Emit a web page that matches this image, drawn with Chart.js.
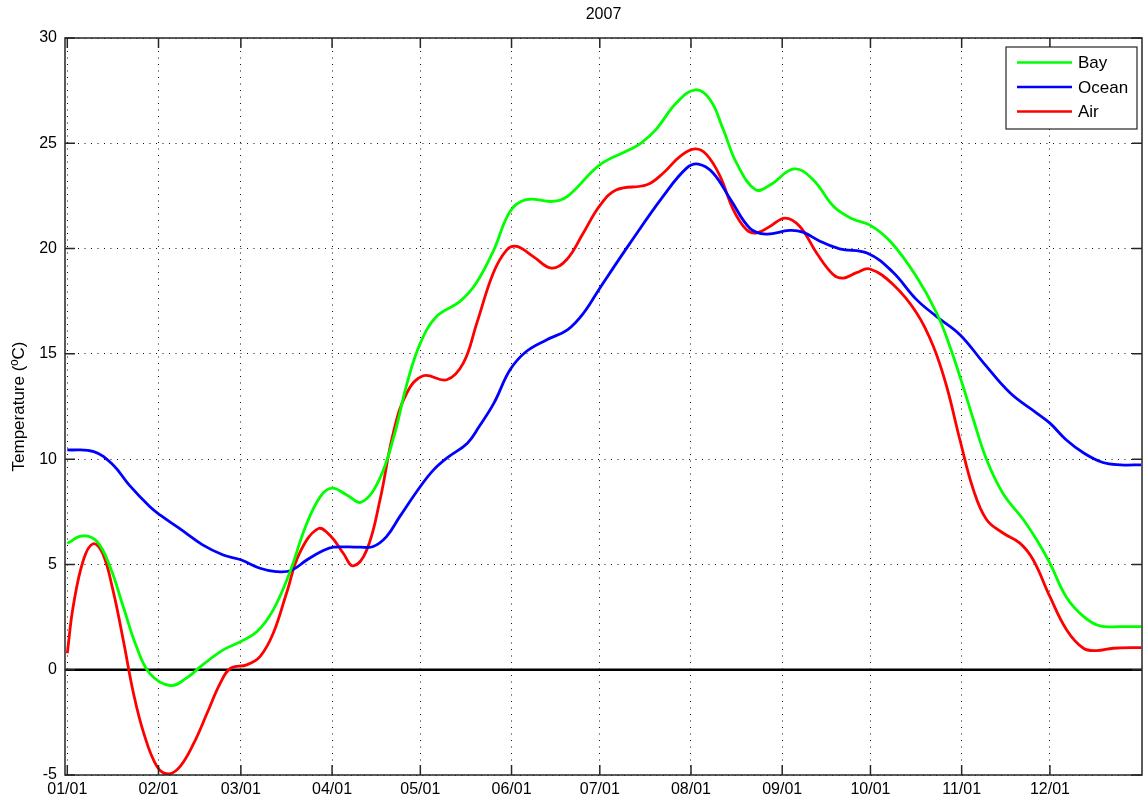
<!DOCTYPE html>
<html><head><meta charset="utf-8">
<script src="https://cdn.jsdelivr.net/npm/chart.js@4.4.0/dist/chart.umd.min.js"></script>
<style>html,body{margin:0;padding:0;background:#fff;overflow:hidden}canvas{display:block}</style>
</head><body>
<canvas id="c" width="1144" height="803"></canvas>
<script>
// ---------- data ----------
const chartTitle = '2007';
const yAxisTitle = 'Temperature (ºC)';
const monthTickDays = [0, 31, 59, 90, 120, 151, 181, 212, 243, 273, 304, 334];
const monthTickLabels = ['01/01','02/01','03/01','04/01','05/01','06/01','07/01','08/01','09/01','10/01','11/01','12/01'];
const yMin = -5, yMax = 30, yStep = 5;
const xMin = -0.78, xMax = 365.3;

const bayDays = [0,5,10,14.5,19,23.5,28,35,40.5,46,53,59,64.5,70,75.5,81,86,90,95,100,106,111,115.5,120,125.5,133.5,139,145,150.5,156,165,170,181,191,195,200,207,213.5,218.5,223,227.5,234,239,247,253.5,260.5,267,273,280,288.5,295.5,300,304.5,308,312.5,318,325,329.5,334,339.5,345.5,351,358,365];
const bayTemp = [6.0,6.35,6.1,4.9,3.0,1.1,-0.17,-0.75,-0.4,0.23,0.94,1.34,1.81,2.84,4.58,6.8,8.22,8.62,8.3,7.96,9.02,11.07,13.61,15.51,16.77,17.49,18.36,19.94,21.76,22.32,22.24,22.48,23.98,24.69,25.01,25.64,26.91,27.54,27.07,25.64,24.06,22.79,23.03,23.78,23.27,22.0,21.4,21.1,20.3,18.7,16.94,15.35,13.45,11.87,9.97,8.38,7.12,6.17,5.06,3.47,2.52,2.08,2.05,2.05];

const oceanDays = [0,9,15.5,21,28,31.5,38,46,53,59,65.5,71,76,81.5,87,90.5,99.5,104,108.5,113,120,124.5,129,136,140,145,150.5,156,163,170,175.5,181,191,202.5,210.5,214.5,219.5,225.5,232,237.5,245.5,250,256,262.5,272,280.5,288.5,295.5,303.5,311.5,320.5,329.5,334,339.5,345.5,352,358,365];
const oceanTemp = [10.44,10.36,9.73,8.78,7.75,7.35,6.72,5.93,5.45,5.22,4.82,4.66,4.71,5.22,5.66,5.82,5.82,5.85,6.32,7.27,8.70,9.49,10.05,10.76,11.55,12.66,14.24,15.11,15.67,16.14,16.94,18.12,20.2,22.48,23.82,24.01,23.59,22.32,20.97,20.69,20.86,20.78,20.34,19.99,19.78,18.9,17.6,16.77,15.9,14.56,13.14,12.19,11.71,10.92,10.29,9.84,9.73,9.73];

const airDays = [0,2,5.5,8.8,12,15.5,19,22.5,26,30.5,34.3,38.3,43,47.5,52,55.5,61,65.5,70,74.5,79,85.3,89.5,93.8,97.2,101.8,106.3,110.8,115.4,121,129,134.6,139.2,144.8,149.4,152.8,158.4,164.6,169.7,175.4,181,186.7,197,202.6,208.3,213.4,217.3,221.9,226.4,230.9,234.3,238.8,244,249,254.7,260.4,263.8,268.3,272.8,280.8,288.7,294.4,298.9,303.4,308,312.5,318.2,323.8,328.3,334,339.7,345.4,349.9,355.5,365];
const airTemp = [0.78,3.0,5.22,5.98,5.53,3.79,1.42,-1.12,-3.02,-4.6,-4.95,-4.6,-3.49,-2.07,-0.64,0.07,0.23,0.62,1.73,3.63,5.55,6.7,6.35,5.53,4.93,5.69,8.07,11.24,13.14,13.96,13.77,14.56,16.46,18.84,19.94,20.1,19.62,19.07,19.47,20.74,22.04,22.79,23.03,23.59,24.38,24.73,24.46,23.43,21.84,20.89,20.74,21.05,21.45,21.05,19.79,18.76,18.6,18.86,19.03,18.28,16.94,15.35,13.45,10.92,8.54,7.12,6.48,6.01,5.22,3.47,1.89,1.02,0.91,1.02,1.05];

const seriesNames = ['Bay', 'Ocean', 'Air'];
const seriesColors = ['#00ff00', '#0000ff', '#ff0000'];

// ---------- chart ----------
const FONT = "'Liberation Sans', Arial, Helvetica, sans-serif";
const pts = (d, t) => d.map((x, i) => ({x: x, y: t[i]}));

const framePlugin = {
  id: 'frame',
  beforeDatasetsDraw(chart) {
    const {ctx, chartArea: a, scales: {y}} = chart;
    const y0 = y.getPixelForValue(0);
    ctx.save();
    ctx.strokeStyle = '#000';
    ctx.lineWidth = 2.4;
    ctx.beginPath(); ctx.moveTo(a.left, y0); ctx.lineTo(a.right, y0); ctx.stroke();
    ctx.restore();
  },
  afterDatasetsDraw(chart) {
    const {ctx, chartArea: a, scales: {x, y}} = chart;
    ctx.save();
    ctx.strokeStyle = '#262626';
    ctx.lineWidth = 1.5;
    ctx.strokeRect(a.left, a.top, a.right - a.left, a.bottom - a.top);
    const L = 10;
    ctx.beginPath();
    x.ticks.forEach(t => {
      const px = x.getPixelForValue(t.value);
      ctx.moveTo(px, a.bottom); ctx.lineTo(px, a.bottom - L);
      ctx.moveTo(px, a.top); ctx.lineTo(px, a.top + L);
    });
    y.ticks.forEach(t => {
      const py = y.getPixelForValue(t.value);
      ctx.moveTo(a.left, py); ctx.lineTo(a.left + L, py);
      ctx.moveTo(a.right, py); ctx.lineTo(a.right - L, py);
    });
    ctx.stroke();
    // title
    ctx.fillStyle = '#000';
    ctx.font = '16px ' + FONT;
    ctx.textAlign = 'center';
    ctx.textBaseline = 'middle';
    ctx.fillText(chartTitle, (a.left + a.right) / 2, 15);
    ctx.restore();
  },
  afterDraw(chart) {
    const {ctx, chartArea: a} = chart;
    const w = 131, h = 82;
    const bx = a.right - 5 - w, by = a.top + 9;
    ctx.save();
    ctx.fillStyle = '#fff';
    ctx.fillRect(bx, by, w, h);
    ctx.strokeStyle = '#262626';
    ctx.lineWidth = 1.2;
    ctx.strokeRect(bx, by, w, h);
    ctx.font = '17px ' + FONT;
    ctx.textAlign = 'left';
    ctx.textBaseline = 'middle';
    chart.data.datasets.forEach((ds, i) => {
      const ry = by + 15.5 + i * 24.5;
      ctx.strokeStyle = ds.borderColor;
      ctx.lineWidth = 2.6;
      ctx.beginPath(); ctx.moveTo(bx + 11, ry); ctx.lineTo(bx + 66, ry); ctx.stroke();
      ctx.fillStyle = '#000';
      ctx.fillText(ds.label, bx + 72, ry + 1);
    });
    ctx.restore();
  }
};

const tickFont = {family: FONT, size: 16};

new Chart(document.getElementById('c'), {
  type: 'line',
  data: {
    datasets: [
      {label: seriesNames[0], data: pts(bayDays, bayTemp), borderColor: seriesColors[0]},
      {label: seriesNames[1], data: pts(oceanDays, oceanTemp), borderColor: seriesColors[1]},
      {label: seriesNames[2], data: pts(airDays, airTemp), borderColor: seriesColors[2]}
    ].map(d => Object.assign(d, {borderWidth: 2.8, pointRadius: 0, fill: false, tension: 0.4}))
  },
  options: {
    responsive: false,
    animation: false,
    devicePixelRatio: 1,
    layout: {padding: {top: 38, right: 2, left: 0, bottom: 0}},
    plugins: {legend: {display: false}, tooltip: {enabled: false}, title: {display: false}},
    scales: {
      x: {
        type: 'linear', min: xMin, max: xMax,
        afterBuildTicks: s => { s.ticks = monthTickDays.map(v => ({value: v})); },
        ticks: {
          callback: v => { const i = monthTickDays.indexOf(v); return i >= 0 ? monthTickLabels[i] : ''; },
          font: tickFont, color: '#000', padding: 5, maxRotation: 0, autoSkip: false
        },
        grid: {drawTicks: false, color: '#111', lineWidth: 1},
        border: {display: false, dash: [1, 5.5]},
        afterFit: s => { s.height = 28; }
      },
      y: {
        min: yMin, max: yMax,
        ticks: {stepSize: yStep, font: tickFont, color: '#000', padding: 8},
        grid: {drawTicks: false, color: '#111', lineWidth: 1},
        border: {display: false, dash: [1, 5.5]},
        title: {display: true, text: yAxisTitle, font: {family: FONT, size: 17}, color: '#000', padding: {top: 9, bottom: 0}},
        afterFit: s => { s.width = 65; }
      }
    }
  },
  plugins: [framePlugin]
});
</script>
</body></html>
